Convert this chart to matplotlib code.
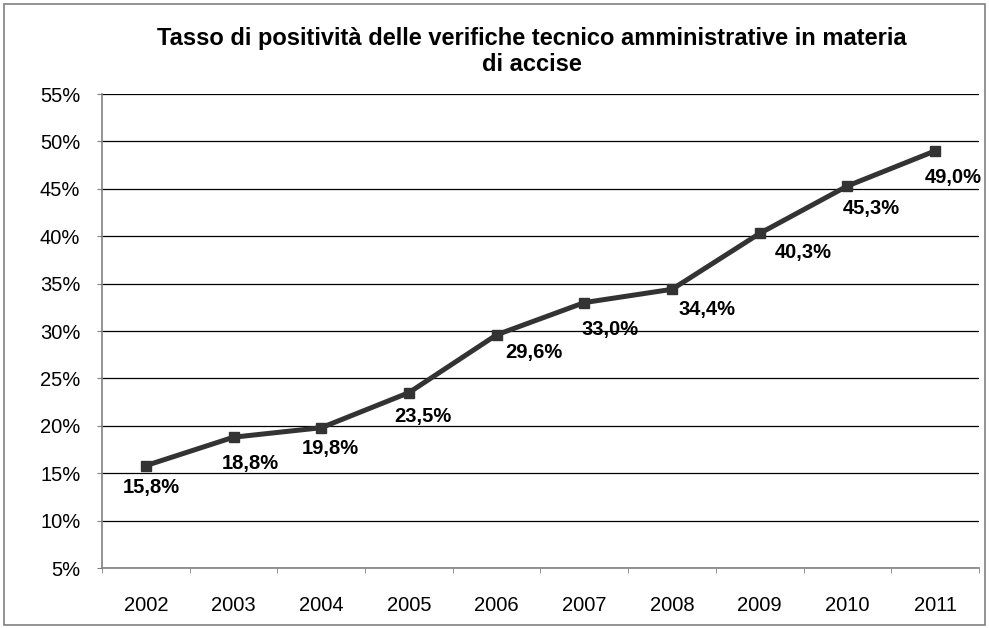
import matplotlib
matplotlib.use("Agg")
import matplotlib.pyplot as plt
from matplotlib.patches import Rectangle

plt.rcParams['font.family'] = ['Liberation Sans', 'DejaVu Sans']

years = ["2002", "2003", "2004", "2005", "2006", "2007", "2008", "2009", "2010", "2011"]
values = [15.8, 18.8, 19.8, 23.5, 29.6, 33.0, 34.4, 40.3, 45.3, 49.0]
yticks = [5, 10, 15, 20, 25, 30, 35, 40, 45, 50, 55]
title = "Tasso di positività delle verifiche tecnico amministrative in materia\ndi accise"

# label placement offsets (pixels: right, down) as in the original chart
label_dx = [5, 17, 9, 14, 37, 26, 35, 44, 24, 18]
label_dy = [22, 26, 21, 24, 18, 27, 20, 19, 23, 27]

fig = plt.figure(figsize=(9.89, 6.28), dpi=100)
fig.patches.append(Rectangle((0.004, 0.004), 0.992, 0.99, transform=fig.transFigure,
                             fill=False, edgecolor='#808080', linewidth=1.2))
ax = fig.add_axes([0.1031, 0.0955, 0.8868, 0.7548])

x = list(range(len(years)))
ax.plot(x, values, color='#333333', linewidth=3.6, marker='s', markersize=6.5,
        markerfacecolor='#333333', markeredgecolor='#333333', zorder=3)
for xi, v, dx, dy in zip(x, values, label_dx, label_dy):
    ax.annotate(f"{v:.1f}%".replace('.', ','), (xi, v), xytext=(dx, -dy),
                textcoords='offset pixels', ha='center', va='center',
                fontsize=14.5, fontweight='bold', color='black')

ax.set_xlim(-0.5, len(years) - 0.5)
ax.set_ylim(5, 55)
ax.set_yticks(yticks)
ax.set_yticklabels([f"{t}%" for t in yticks], fontsize=14.5)
ax.set_xticks(x)
ax.set_xticklabels(years, fontsize=14.5)
ax.set_xticks([i - 0.5 for i in range(len(years) + 1)], minor=True)
ax.tick_params(axis='x', which='major', length=0, pad=20)
ax.tick_params(axis='x', which='minor', length=3.6, color='#808080', direction='out')
ax.tick_params(axis='y', length=3.6, color='#808080', direction='out', pad=12)
ax.grid(axis='y', color='black', linewidth=0.9)
ax.set_axisbelow(True)
for s in ['top', 'right']:
    ax.spines[s].set_visible(False)
for s in ['left', 'bottom']:
    ax.spines[s].set_color('#808080')
    ax.spines[s].set_linewidth(1.2)

fig.text(0.538, 0.918, title, ha='center', va='center', fontsize=17,
         fontweight='bold', linespacing=1.15)

fig.savefig("out.png", dpi=100)
